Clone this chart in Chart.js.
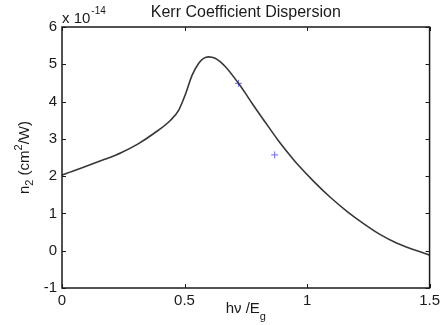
<!DOCTYPE html>
<html lang="en">
<head>
  <meta charset="UTF-8">
  <title>Kerr Coefficient Dispersion</title>
  <script src="https://cdn.jsdelivr.net/npm/chart.js@4.4.3/dist/chart.umd.min.js"></script>
  <style>
    html, body { margin: 0; padding: 0; background: #fff; }
    canvas { display: block; }
  </style>
</head>
<body>
  <canvas id="chart" width="444" height="325"></canvas>
  <script>
    // curve (h nu / Eg, n2 in units of 1e-14 cm^2/W)
    const curveX = [0, 0.012, 0.093, 0.174, 0.241, 0.309, 0.376, 0.443, 0.477, 0.504, 0.531, 0.558, 0.578, 0.598, 0.625, 0.666, 0.72, 0.753, 0.774, 0.828, 0.881, 0.935, 0.962, 1.030, 1.097, 1.164, 1.232, 1.299, 1.367, 1.434, 1.5];
    const curveY = [2.03, 2.06, 2.25, 2.45, 2.63, 2.86, 3.15, 3.5, 3.78, 4.2, 4.71, 5.03, 5.16, 5.2, 5.16, 4.94, 4.49, 4.18, 3.97, 3.46, 2.97, 2.52, 2.31, 1.84, 1.42, 1.05, 0.72, 0.43, 0.2, 0.03, -0.12];

    // measured points (blue crosses)
    const measX = [0.72, 0.868];
    const measY = [4.49, 2.57];

    const xTicks = [0, 0.5, 1, 1.5];
    const yTicks = [-1, 0, 1, 2, 3, 4, 5, 6];

    const FONT = "'Liberation Sans', Arial, sans-serif";
    const INK = '#1a1a1a';

    // box, inward ticks on all sides, title and axis labels (MATLAB look)
    const matlabFrame = {
      id: 'matlabFrame',
      afterDraw(chart) {
        const { ctx, chartArea: a, scales } = chart;
        ctx.save();
        ctx.strokeStyle = INK;
        ctx.lineWidth = 1.5;
        ctx.strokeRect(a.left, a.top, a.right - a.left, a.bottom - a.top);

        ctx.lineWidth = 1;
        const tl = 4;
        ctx.beginPath();
        xTicks.forEach(v => {
          const px = Math.round(scales.x.getPixelForValue(v)) + 0.5;
          ctx.moveTo(px, a.bottom); ctx.lineTo(px, a.bottom - tl);
          ctx.moveTo(px, a.top); ctx.lineTo(px, a.top + tl);
        });
        yTicks.forEach(v => {
          const py = Math.round(scales.y.getPixelForValue(v)) + 0.5;
          ctx.moveTo(a.left, py); ctx.lineTo(a.left + tl, py);
          ctx.moveTo(a.right, py); ctx.lineTo(a.right - tl, py);
        });
        ctx.stroke();

        ctx.fillStyle = INK;
        ctx.textBaseline = 'alphabetic';

        // title
        ctx.font = '16px ' + FONT;
        ctx.textAlign = 'center';
        ctx.fillText('Kerr Coefficient Dispersion', (a.left + a.right) / 2, 17);

        // exponent label
        ctx.textAlign = 'left';
        ctx.font = '15px ' + FONT;
        ctx.fillText('x 10', a.left, 23);
        let w = ctx.measureText('x 10').width;
        ctx.font = '10px ' + FONT;
        ctx.fillText('-14', a.left + w + 1, 14);

        // x axis title: h nu / E_g
        ctx.font = '15px ' + FONT;
        const main = 'h\u03bd /E';
        const mw = ctx.measureText(main).width;
        ctx.font = '11px ' + FONT;
        const gw = ctx.measureText('g').width;
        let x0 = (a.left + a.right) / 2 - (mw + gw) / 2;
        ctx.font = '15px ' + FONT;
        ctx.fillText(main, x0, 313);
        ctx.font = '11px ' + FONT;
        ctx.fillText('g', x0 + mw, 320);

        // y axis title: n_2 (cm^2/W), rotated
        ctx.translate(29, (a.top + a.bottom) / 2);
        ctx.rotate(-Math.PI / 2);
        const parts = [
          ['n', 15, 0], ['2', 11, 4], [' (cm', 15, 0], ['2', 11, -7], ['/W)', 15, 0]
        ];
        let total = 0;
        parts.forEach(p => { ctx.font = p[1] + 'px ' + FONT; total += ctx.measureText(p[0]).width; });
        let cx = -total / 2;
        parts.forEach(p => {
          ctx.font = p[1] + 'px ' + FONT;
          ctx.fillText(p[0], cx, p[2]);
          cx += ctx.measureText(p[0]).width;
        });
        ctx.restore();
      }
    };

    new Chart(document.getElementById('chart'), {
      type: 'scatter',
      data: {
        datasets: [
          {
            data: curveX.map((x, i) => ({ x, y: curveY[i] })),
            showLine: true,
            borderColor: '#383838',
            borderWidth: 1.6,
            pointRadius: 0,
            cubicInterpolationMode: 'monotone'
          },
          {
            data: measX.map((x, i) => ({ x, y: measY[i] })),
            showLine: false,
            pointStyle: 'cross',
            pointRadius: 3.5,
            borderColor: '#6a6aff',
            backgroundColor: '#6a6aff',
            borderWidth: 1
          }
        ]
      },
      options: {
        responsive: false,
        animation: false,
        devicePixelRatio: 1,
        layout: { padding: { left: 0, right: 11, top: 27, bottom: 0 } },
        plugins: { legend: { display: false }, tooltip: { enabled: false } },
        scales: {
          x: {
            type: 'linear', min: 0, max: 1.5,
            afterFit: s => { s.height = 37; },
            afterBuildTicks: s => { s.ticks = xTicks.map(v => ({ value: v })); },
            grid: { display: false, drawTicks: false },
            border: { display: false },
            ticks: { padding: 4, color: INK, font: { family: FONT, size: 15 }, maxRotation: 0, autoSkip: false, callback: v => String(v) }
          },
          y: {
            type: 'linear', min: -1, max: 6,
            afterFit: s => { s.width = 62; },
            afterBuildTicks: s => { s.ticks = yTicks.map(v => ({ value: v })); },
            grid: { display: false, drawTicks: false },
            border: { display: false },
            ticks: { padding: 5, color: INK, font: { family: FONT, size: 15 }, callback: v => String(v) }
          }
        }
      },
      plugins: [matlabFrame]
    });
  </script>
</body>
</html>
